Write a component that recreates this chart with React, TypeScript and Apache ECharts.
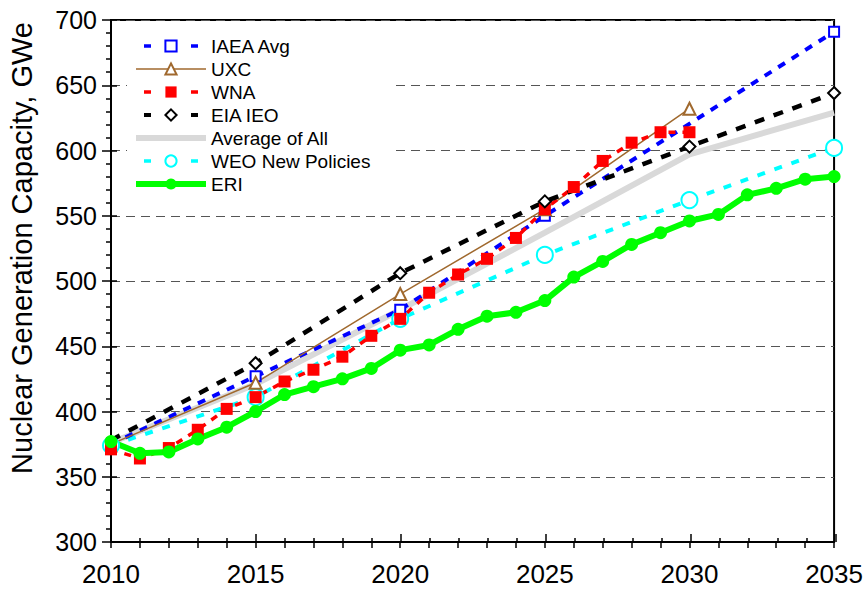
import React, { useEffect, useRef } from "react";
import * as echarts from "echarts";

const FONT = "'Liberation Sans', Arial, sans-serif";

// Years and values (GWe)
const eriYears = [2010, 2011, 2012, 2013, 2014, 2015, 2016, 2017, 2018, 2019, 2020, 2021, 2022, 2023, 2024, 2025, 2026, 2027, 2028, 2029, 2030, 2031, 2032, 2033, 2034, 2035];
const eriValues = [377, 368, 369, 379, 388, 400, 413, 419, 425, 433, 447, 451, 463, 473, 476, 485, 503, 515, 528, 537, 546, 551, 566, 571, 578, 580];

const wnaYears = [2010, 2011, 2012, 2013, 2014, 2015, 2016, 2017, 2018, 2019, 2020, 2021, 2022, 2023, 2024, 2025, 2026, 2027, 2028, 2029, 2030];
const wnaValues = [371, 364, 372, 386, 402, 411, 423, 432, 442, 458, 471, 491, 505, 517, 533, 555, 572, 592, 606, 614, 614];

const iaeaYears = [2010, 2015, 2020, 2025, 2035];
const iaeaValues = [375, 427, 478, 550, 691];

const uxcYears = [2010, 2015, 2020, 2025, 2030];
const uxcValues = [375, 422, 490, 555, 632];

const eiaYears = [2010, 2015, 2020, 2025, 2030, 2035];
const eiaValues = [378, 437, 506, 561, 603, 644];

const avgYears = [2010, 2015, 2020, 2025, 2030, 2035];
const avgValues = [376, 421, 478, 537, 597, 629];

const weoYears = [2010, 2015, 2020, 2025, 2030, 2035];
const weoValues = [374, 411, 471, 520, 562, 602];

const yAxisTitle = "Nuclear Generation Capacity, GWe";

const pairs = (xs: number[], ys: number[], hideFirst = false) =>
  xs.map((x, i) =>
    hideFirst && i === 0 ? { value: [x, ys[i]], symbol: "none" } : [x, ys[i]]
  );

const legendDash = { type: [7, 40], dashOffset: 39 };

export default function App() {
  const ref = useRef<HTMLDivElement>(null);

  useEffect(() => {
    if (!ref.current) return;
    const chart = echarts.init(ref.current, null, { renderer: "svg" });
    const gridRect = { left: 111, top: 20, right: 30, bottom: 49 };
    const option: any = {
      animation: false,
      backgroundColor: "#fff",
      grid: [
        { ...gridRect, show: true, borderColor: "#000", borderWidth: 2, backgroundColor: "transparent" },
        { ...gridRect, show: false },
      ],
      xAxis: [
        {
          type: "value",
          gridIndex: 0,
          min: 2010,
          max: 2035,
          interval: 5,
          axisLine: { show: true, lineStyle: { color: "#000", width: 2 } },
          axisTick: { show: true, length: 6, lineStyle: { color: "#000", width: 1.5 } },
          minorTick: { show: true, splitNumber: 5, length: 6, lineStyle: { color: "#000", width: 1.5 } },
          axisLabel: {
            fontSize: 26,
            color: "#000",
            fontFamily: FONT,
            margin: 19,
            formatter: (v: number) => String(v),
          },
          splitLine: { show: false },
        },
        {
          type: "value",
          gridIndex: 1,
          min: 2010,
          max: 2035,
          interval: 5,
          axisLine: { show: false },
          axisTick: { show: true, inside: true, length: 8, lineStyle: { color: "#000", width: 1.5 } },
          minorTick: { show: true, splitNumber: 5, length: 4, lineStyle: { color: "#000", width: 1.5 } },
          axisLabel: { show: false },
          splitLine: { show: false },
        },
      ],
      yAxis: [
        {
          type: "value",
          gridIndex: 0,
          min: 300,
          max: 700,
          interval: 50,
          axisLine: { show: true, lineStyle: { color: "#000", width: 2 } },
          axisTick: { show: true, length: 9, lineStyle: { color: "#000", width: 1.5 } },
          minorTick: { show: true, splitNumber: 5, length: 5, lineStyle: { color: "#000", width: 1.5 } },
          axisLabel: { fontSize: 25, color: "#000", fontFamily: FONT, margin: 14 },
          splitLine: { show: true, lineStyle: { color: "#555", width: 1, type: [9, 6] } },
        },
        {
          type: "value",
          gridIndex: 1,
          min: 300,
          max: 700,
          interval: 50,
          axisLine: { show: false },
          axisTick: { show: true, inside: true, length: 6, lineStyle: { color: "#000", width: 1.5 } },
          axisLabel: { show: false },
          splitLine: { show: false },
        },
      ],
      legend: {
        data: [
          { name: "IAEA Avg", lineStyle: { width: 3.5, ...legendDash } },
          { name: "UXC", lineStyle: { width: 1.5 } },
          { name: "WNA", lineStyle: { width: 3.5, ...legendDash } },
          { name: "EIA IEO", lineStyle: { width: 4, ...legendDash } },
          { name: "Average of All", lineStyle: { width: 6 }, itemStyle: { opacity: 0 } },
          { name: "WEO New Policies", lineStyle: { width: 3.5, ...legendDash } },
          { name: "ERI", lineStyle: { width: 6 } },
        ],
        orient: "vertical",
        left: 127,
        top: 30,
        backgroundColor: "#fff",
        padding: [6, 20, 6, 6],
        itemWidth: 70,
        itemHeight: 14,
        itemGap: 3,
        textStyle: { fontSize: 19, color: "#000", fontFamily: FONT, lineHeight: 20 },
      },
      graphic: [
        {
          type: "text",
          x: 22,
          y: 248,
          rotation: Math.PI / 2,
          style: {
            text: yAxisTitle,
            fontSize: 29,
            fontFamily: FONT,
            fill: "#000",
            align: "center",
            verticalAlign: "middle",
          },
        },
      ],
      series: [
        {
          name: "Average of All",
          type: "line",
          data: pairs(avgYears, avgValues),
          symbol: "none",
          lineStyle: { color: "#D9D9D9", width: 6 },
          itemStyle: { color: "#D9D9D9" },
        },
        {
          name: "WEO New Policies",
          type: "line",
          data: pairs(weoYears, weoValues),
          symbol: "emptyCircle",
          symbolSize: 16,
          itemStyle: { color: "#00FFFF", borderWidth: 2 },
          lineStyle: { color: "#00FFFF", width: 4, type: [8, 10] },
        },
        {
          name: "IAEA Avg",
          type: "line",
          data: pairs(iaeaYears, iaeaValues, true),
          symbol: "emptyRect",
          symbolSize: 10,
          itemStyle: { color: "#0000FF", borderWidth: 1.5 },
          lineStyle: { color: "#0000FF", width: 4, type: [8, 8] },
        },
        {
          name: "UXC",
          type: "line",
          data: pairs(uxcYears, uxcValues, true),
          symbol: "emptyTriangle",
          symbolSize: 12,
          itemStyle: { color: "#A0692E", borderWidth: 1.5 },
          lineStyle: { color: "#A0692E", width: 1.5 },
        },
        {
          name: "WNA",
          type: "line",
          data: pairs(wnaYears, wnaValues),
          symbol: "rect",
          symbolSize: 12,
          itemStyle: { color: "#FF0000" },
          lineStyle: { color: "#FF0000", width: 3.5, type: [7, 7] },
        },
        {
          name: "EIA IEO",
          type: "line",
          data: pairs(eiaYears, eiaValues, true),
          symbol: "emptyDiamond",
          symbolSize: 12,
          itemStyle: { color: "#000", borderWidth: 1.5 },
          lineStyle: { color: "#000", width: 4.5, type: [10, 10] },
        },
        {
          name: "ERI",
          type: "line",
          data: pairs(eriYears, eriValues),
          symbol: "circle",
          symbolSize: 13,
          itemStyle: { color: "#00FF00" },
          lineStyle: { color: "#00FF00", width: 6 },
        },
      ],
    };
    chart.setOption(option);
    return () => chart.dispose();
  }, []);

  return (
    <div
      ref={ref}
      style={{ position: "fixed", left: 0, top: 0, width: 866, height: 591, background: "#fff" }}
    />
  );
}
